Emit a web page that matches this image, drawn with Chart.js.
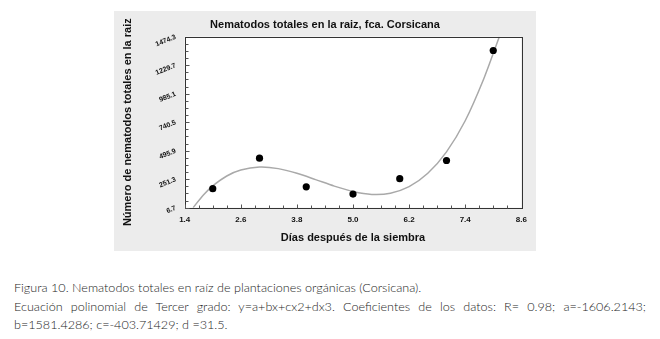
<!DOCTYPE html>
<html>
<head>
<meta charset="utf-8">
<script src="https://cdn.jsdelivr.net/npm/chart.js"></script>
<style>
    html, body { margin: 0; padding: 0; background: #fff; width: 660px; height: 339px; overflow: hidden; }
    #panel { position: absolute; left: 114px; top: 11px; width: 422px; height: 240px; background: #ececec; }
    #caption {
        position: absolute; left: 14px; top: 279px; width: 632px;
        font-family: Lato, 'Open Sans', sans-serif; font-size: 12.6px; font-weight: 300;
        color: #1e1e1e; line-height: 18.5px;
    }
    .just { text-align: justify; text-align-last: justify; }
</style>
</head>
<body>
<div id="panel"><canvas id="chart" width="422" height="240"></canvas></div>
<div id="caption">
    <div>Figura 10. Nematodos totales en raíz de plantaciones orgánicas (Corsicana).</div>
    <div class="just">Ecuación polinomial de Tercer grado: y=a+bx+cx2+dx3. Coeficientes de los datos: R= 0.98; a=-1606.2143;</div>
    <div>b=1581.4286; c=-403.71429; d =31.5.</div>
</div>
<script>
// ─── DONNÉES ──────────────────────────────────────────────────────────────
const dias       = [2, 3, 4, 5, 6, 7, 8];
const nematodos  = [170, 432, 186, 124, 256, 412, 1356];

// courbe d'ajustement
const curvaX = [1.58, 1.8, 2.0, 2.3, 2.6, 3.0, 3.4, 3.8, 4.2, 4.6, 5.0, 5.4, 5.8, 6.2, 6.6, 7.0, 7.4, 7.8, 8.13];
const curvaY = [7, 116, 194, 279, 330, 355, 342, 302, 248, 192, 146, 121, 131, 187, 302, 486, 753, 1116, 1474];

const xTicks = [1.4, 2.6, 3.8, 5.0, 6.2, 7.4, 8.6];
const yTicks = [6.7, 251.3, 495.9, 740.5, 985.1, 1229.7, 1474.3];

const FONT = "'Liberation Sans', Arial, sans-serif";

// ─── PLUGINS ──────────────────────────────────────────────────────────────
const frame = {
    id: 'frame',
    beforeDatasetsDraw(chart) {
        const { ctx, chartArea: a } = chart;
        ctx.save();
        ctx.fillStyle = '#fff';
        ctx.fillRect(a.left, a.top, a.right - a.left, a.bottom - a.top);
        ctx.restore();
    },
    afterDatasetsDraw(chart) {
        const { ctx, chartArea: a, scales } = chart;
        ctx.save();
        ctx.strokeStyle = '#333';
        ctx.lineWidth = 1;
        ctx.strokeRect(Math.round(a.left) + 0.5, Math.round(a.top) + 0.5,
                       Math.round(a.right - a.left), Math.round(a.bottom - a.top));

        // petites graduations vers l'intérieur
        ctx.strokeStyle = '#555';
        const bottom = Math.round(a.bottom) + 0.5;
        for (let i = 0; i < xTicks.length - 1; i++) {
            const step = (xTicks[i + 1] - xTicks[i]) / 4;
            for (let k = 0; k < 4; k++) {
                const px = Math.round(scales.x.getPixelForValue(xTicks[i] + k * step)) + 0.5;
                const len = k === 0 ? 4 : 3;
                ctx.beginPath(); ctx.moveTo(px, bottom); ctx.lineTo(px, bottom - len); ctx.stroke();
            }
        }
        const left = Math.round(a.left) + 0.5;
        for (let i = 0; i < yTicks.length - 1; i++) {
            const step = (yTicks[i + 1] - yTicks[i]) / 4;
            for (let k = 0; k < 4; k++) {
                const py = Math.round(scales.y.getPixelForValue(yTicks[i] + k * step)) + 0.5;
                const len = k === 0 ? 4 : 3;
                ctx.beginPath(); ctx.moveTo(left, py); ctx.lineTo(left + len, py); ctx.stroke();
            }
        }
        ctx.restore();
    },
    afterDraw(chart) {
        const { ctx } = chart;
        ctx.save();
        ctx.font = 'bold 11px ' + FONT;
        ctx.fillStyle = '#111';
        ctx.textAlign = 'center';
        ctx.textBaseline = 'middle';
        ctx.fillText('Nematodos totales en la raiz, fca. Corsicana', chart.width / 2, 13.6);
        ctx.restore();
    }
};

// ─── GRAPHIQUE ────────────────────────────────────────────────────────────
new Chart(document.getElementById('chart'), {
    type: 'scatter',
    data: {
        datasets: [{
            label: 'Nematodos',
            data: dias.map((x, i) => ({ x, y: nematodos[i] })),
            backgroundColor: '#000',
            borderColor: '#000',
            borderWidth: 0,
            pointRadius: 3.6
        }, {
            label: 'Ajuste',
            data: curvaX.map((x, i) => ({ x, y: curvaY[i] })),
            showLine: true,
            pointRadius: 0,
            borderColor: '#a9a9a9',
            borderWidth: 1.5,
            tension: 0.3
        }]
    },
    options: {
        responsive: false,
        animation: false,
        layout: { padding: { top: 25.7, right: 14.7, left: 0, bottom: 0 } },
        plugins: { legend: { display: false }, tooltip: { enabled: false } },
        scales: {
            x: {
                type: 'linear',
                min: 1.4, max: 8.6,
                afterBuildTicks: s => { s.ticks = xTicks.map(v => ({ value: v })); },
                afterFit: s => { s.height = 43.3; },
                grid: { display: false, drawTicks: false },
                border: { display: false },
                ticks: {
                    callback: v => v.toFixed(1),
                    color: '#111', padding: 7.5, maxRotation: 0,
                    font: { size: 8, weight: 'bold', family: FONT }
                },
                title: {
                    display: true, text: 'Días después de la siembra', color: '#111',
                    font: { size: 11, weight: 'bold', family: FONT },
                    padding: { top: 0, bottom: 6.4 }
                }
            },
            y: {
                type: 'linear',
                min: 6.7, max: 1474.3,
                afterBuildTicks: s => { s.ticks = yTicks.map(v => ({ value: v })); },
                afterFit: s => { s.width = 70.7; },
                grid: { display: false, drawTicks: false },
                border: { display: false },
                ticks: {
                    callback: v => v.toFixed(1),
                    color: '#111', padding: 9, minRotation: 22, maxRotation: 22,
                    font: { size: 7, weight: 'bold', family: FONT }
                },
                title: {
                    display: true, text: 'Número de nematodos totales en la raiz', color: '#111',
                    font: { size: 11, weight: 'bold', family: FONT },
                    padding: { top: 7.4, bottom: 0 }
                }
            }
        }
    },
    plugins: [frame]
});
</script>
</body>
</html>
